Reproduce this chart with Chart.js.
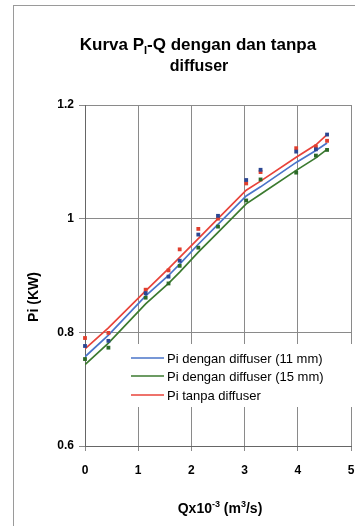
<!DOCTYPE html>
<html>
<head>
<meta charset="utf-8">
<script src="https://cdn.jsdelivr.net/npm/chart.js@4.4.0/dist/chart.umd.min.js"></script>
<style>
  html, body { margin: 0; padding: 0; background: #fff; }
  #wrap { width: 355px; height: 526px; }
</style>
</head>
<body>
<div id="wrap"><canvas id="grafik" width="355" height="526"></canvas></div>
<script>
// debit Q (x10^-3 m3/s)
const debit = [0, 0.44, 1.14, 1.57, 1.78, 2.13, 2.50, 3.03, 3.30, 3.97, 4.34, 4.55];

// titik hasil ukur
const ukur11 = [0.776, 0.785, 0.869, 0.898, 0.926, 0.972, 1.005, 1.068, 1.086, 1.118, 1.122, 1.148];
const ukur15 = [0.753, 0.773, 0.861, 0.886, 0.917, 0.949, 0.986, 1.032, 1.069, 1.081, 1.111, 1.121];
const ukurTanpa = [0.790, 0.799, 0.875, 0.909, 0.946, 0.982, 1.000, 1.062, 1.082, 1.124, 1.127, 1.137];

// garis kurva
const garis11 = [0.757, 0.795, 0.864, 0.900, 0.920, 0.955, 0.990, 1.040, 1.056, 1.099, 1.120, 1.133];
const garis15 = [0.743, 0.781, 0.850, 0.886, 0.906, 0.941, 0.976, 1.026, 1.043, 1.085, 1.107, 1.122];
const garisTanpa = [0.771, 0.808, 0.873, 0.912, 0.932, 0.965, 1.000, 1.050, 1.066, 1.108, 1.130, 1.148];

const labelSeri = ['Pi dengan diffuser (11 mm)', 'Pi dengan diffuser (15 mm)', 'Pi tanpa diffuser'];
const ticksY = [0.6, 0.8, 1, 1.2];
const ticksX = [0, 1, 2, 3, 4, 5];

const warnaGaris = ['#4a74c9', '#3b7a2f', '#e8433a'];
const warnaTitik = ['#2b4793', '#2c6a28', '#e03f2e'];

const FONT = '"Liberation Sans", Arial, sans-serif';

function pasangan(ys) {
    return debit.map((x, i) => ({ x: x, y: ys[i] }));
}

function tulisKaya(ctx, bagian, x, y, align) {
    // bagian: [{t, size, dy}]
    let total = 0;
    bagian.forEach(b => {
        ctx.font = 'bold ' + b.size + 'px ' + FONT;
        b.w = ctx.measureText(b.t).width;
        total += b.w;
    });
    let mulai = align === 'center' ? x - total / 2 : x;
    ctx.textAlign = 'left';
    ctx.textBaseline = 'alphabetic';
    bagian.forEach(b => {
        ctx.font = 'bold ' + b.size + 'px ' + FONT;
        ctx.fillText(b.t, mulai, y + (b.dy || 0));
        mulai += b.w;
    });
}

const tulisan = {
    id: 'tulisan',
    beforeDraw(chart) {
        const ctx = chart.ctx;
        ctx.save();
        ctx.fillStyle = '#fff';
        ctx.fillRect(0, 0, chart.width, chart.height);
        ctx.strokeStyle = '#9a9a9a';
        ctx.lineWidth = 1;
        ctx.strokeRect(13.5, 5.5, 500, 700);
        ctx.restore();
    },
    afterDraw(chart) {
        const ctx = chart.ctx;
        ctx.save();
        ctx.fillStyle = '#000';

        // judul
        tulisKaya(ctx, [
            { t: 'Kurva P', size: 17 },
            { t: 'I', size: 11, dy: 4 },
            { t: '-Q dengan dan tanpa', size: 17 }
        ], 198, 50, 'center');
        tulisKaya(ctx, [{ t: 'diffuser', size: 16 }], 199, 71, 'center');

        // judul sumbu x
        tulisKaya(ctx, [
            { t: 'Qx10', size: 14 },
            { t: '-3', size: 9, dy: -6 },
            { t: ' (m', size: 14 },
            { t: '3', size: 9, dy: -6 },
            { t: '/s)', size: 14 }
        ], 220, 513, 'center');

        // judul sumbu y
        ctx.save();
        ctx.translate(38, 297);
        ctx.rotate(-Math.PI / 2);
        tulisKaya(ctx, [{ t: 'Pi (KW)', size: 14 }], 0, 0, 'center');
        ctx.restore();

        // legenda di dalam area plot
        ctx.fillStyle = '#fff';
        ctx.fillRect(126, 344, 229, 63);
        const barisY = [358, 376, 395];
        ctx.font = '13px ' + FONT;
        ctx.textBaseline = 'middle';
        ctx.textAlign = 'left';
        labelSeri.forEach((lbl, i) => {
            ctx.strokeStyle = warnaGaris[i];
            ctx.lineWidth = 1.6;
            ctx.beginPath();
            ctx.moveTo(131, barisY[i]);
            ctx.lineTo(164, barisY[i]);
            ctx.stroke();
            ctx.fillStyle = '#000';
            ctx.fillText(lbl, 167, barisY[i] + 1);
        });
        ctx.restore();
    }
};

const dataGaris = [garis11, garis15, garisTanpa];
const dataUkur = [ukur11, ukur15, ukurTanpa];

const datasets = [];
dataUkur.forEach((ys, i) => {
    datasets.push({
        label: labelSeri[i] + ' (ukur)',
        data: pasangan(ys),
        showLine: false,
        pointStyle: 'rect',
        pointRadius: 2.7,
        pointBackgroundColor: warnaTitik[i],
        pointBorderColor: warnaTitik[i],
        pointBorderWidth: 0,
        clip: false,
        order: i
    });
});
dataGaris.forEach((ys, i) => {
    datasets.push({
        label: labelSeri[i],
        data: pasangan(ys),
        borderColor: warnaGaris[i],
        borderWidth: 1.7,
        pointRadius: 0,
        tension: 0,
        fill: false,
        order: 5 + i
    });
});

const fontTick = { family: FONT, size: 12, weight: 'bold' };

new Chart(document.getElementById('grafik'), {
    type: 'line',
    data: { datasets: datasets },
    options: {
        responsive: false,
        animation: false,
        layout: { padding: { top: 105, right: -1, left: 0, bottom: 0 } },
        plugins: {
            legend: { display: false },
            title: { display: false },
            tooltip: { enabled: false }
        },
        scales: {
            x: {
                type: 'linear',
                min: 0,
                max: 5,
                afterBuildTicks: s => { s.ticks = ticksX.map(v => ({ value: v })); },
                ticks: { color: '#000', font: fontTick, padding: 12, maxRotation: 0 },
                grid: { color: '#8a8a8a', tickLength: 5, lineWidth: 1 },
                border: { color: '#666' },
                afterFit: s => { s.height = 80; s.paddingLeft = 0; s.paddingRight = 0; }
            },
            y: {
                type: 'linear',
                min: 0.6,
                max: 1.2,
                afterBuildTicks: s => { s.ticks = ticksY.map(v => ({ value: v })); },
                ticks: {
                    color: '#000',
                    font: fontTick,
                    padding: 5,
                    callback: v => String(Number(v.toFixed(1)))
                },
                grid: { color: '#8a8a8a', tickLength: 6, lineWidth: 1 },
                border: { color: '#666' },
                afterFit: s => { s.width = 85; s.paddingTop = 0; s.paddingBottom = 0; }
            }
        }
    },
    plugins: [tulisan]
});
</script>
</body>
</html>
